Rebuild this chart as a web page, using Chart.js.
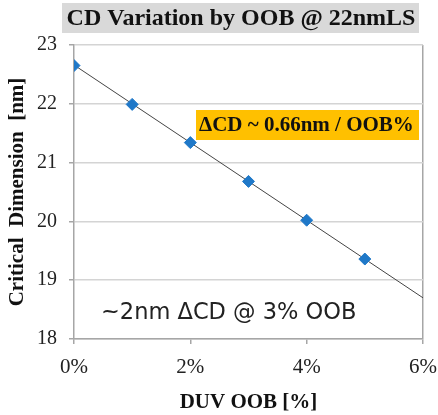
<!DOCTYPE html>
<html>
<head>
<meta charset="utf-8">
<script src="https://cdn.jsdelivr.net/npm/chart.js@4.4.0/dist/chart.umd.min.js"></script>
<style>
  html, body { margin: 0; padding: 0; background: #fff; }
  #wrap { width: 438px; height: 415px; position: relative; }
</style>
</head>
<body>
<div id="wrap"><canvas id="myChart" width="438" height="415"></canvas></div>
<script>
// measured CD at each OOB level
const oobPercent = [0, 1, 2, 3, 4, 5];
const cdValues = [22.65, 21.99, 21.34, 20.68, 20.02, 19.36];

// linear fit, ~0.66 nm per OOB %
const fitX = [0, 6];
const fitY = [22.66, 18.70];

const xTicks = [0, 2, 4, 6];
const yTicks = [18, 19, 20, 21, 22, 23];

const titleText = 'CD Variation by OOB @ 22nmLS';
const slopeNote = '\u0394CD ~ 0.66nm / OOB%';
const deltaNote = '~2nm \u0394CD @ 3% OOB';

const serif = "'Liberation Serif', 'Times New Roman', serif";

// title box and the two text notes
const notesPlugin = {
    id: 'notes',
    afterDraw(chart) {
        const ctx = chart.ctx;
        ctx.save();
        ctx.fillStyle = '#d9d9d9';
        ctx.fillRect(62, 3, 357, 30);
        ctx.fillStyle = '#111';
        ctx.font = 'bold 24px ' + serif;
        ctx.textAlign = 'center';
        ctx.textBaseline = 'middle';
        ctx.fillText(titleText, 241, 19);

        ctx.fillStyle = '#ffc000';
        ctx.fillRect(196, 110, 223, 30);
        ctx.fillStyle = '#111';
        ctx.font = 'bold 21px ' + serif;
        ctx.textAlign = 'left';
        ctx.fillText(slopeNote, 199, 126);

        ctx.fillStyle = '#222';
        ctx.font = "22.5px 'DejaVu Sans', sans-serif";
        ctx.fillText(deltaNote, 101, 313);
        ctx.restore();
    }
};

new Chart('myChart', {
    type: 'scatter',
    data: {
        datasets: [{
            data: oobPercent.map((x, i) => ({x: x, y: cdValues[i]})),
            pointStyle: 'rectRot',
            pointRadius: 6,
            pointHoverRadius: 6,
            backgroundColor: '#1f78c8',
            borderColor: '#1f78c8',
            borderWidth: 1,
            order: 0
        }, {
            type: 'line',
            data: fitX.map((x, i) => ({x: x, y: fitY[i]})),
            borderColor: '#444',
            borderWidth: 1,
            pointRadius: 0,
            fill: false,
            order: 1
        }]
    },
    options: {
        responsive: false,
        animation: false,
        layout: { padding: { top: 45, right: 15, left: 0, bottom: 0 } },
        plugins: {
            legend: { display: false },
            tooltip: { enabled: false }
        },
        scales: {
            x: {
                type: 'linear',
                min: 0,
                max: 6,
                afterFit: s => {
                    s.height = 76;
                    s.paddingLeft = 0;
                    s.paddingRight = 0;
                },
                afterBuildTicks: s => { s.ticks = xTicks.map(v => ({value: v})); },
                ticks: {
                    padding: 11,
                    color: '#222',
                    font: { family: serif, size: 21 },
                    callback: v => v + '%'
                },
                grid: {
                    color: c => c.tick && c.tick.value === 6 ? '#a6a6a6' : 'rgba(0,0,0,0)',
                    tickColor: '#a6a6a6',
                    tickLength: 5,
                    lineWidth: 1.5
                },
                border: { color: '#a6a6a6', width: 1.5 },
                title: {
                    display: true,
                    text: 'DUV OOB [%]',
                    color: '#111',
                    font: { family: serif, size: 21, weight: 'bold' },
                    padding: { top: 0, bottom: 0 }
                }
            },
            y: {
                min: 18,
                max: 23,
                afterFit: s => {
                    s.width = 74;
                    s.paddingTop = 0;
                    s.paddingBottom = 0;
                },
                afterBuildTicks: s => { s.ticks = yTicks.map(v => ({value: v})); },
                ticks: {
                    padding: 12,
                    color: '#222',
                    font: { family: serif, size: 20 }
                },
                grid: {
                    color: '#d4d4d4',
                    tickColor: '#a6a6a6',
                    tickLength: 5,
                    lineWidth: 1.5
                },
                border: { color: '#a6a6a6', width: 1.5 },
                title: {
                    display: true,
                    text: 'Critical  Dimension  [nm]',
                    color: '#111',
                    font: { family: serif, size: 21, weight: 'bold' },
                    padding: { top: 5, bottom: 0 }
                }
            }
        }
    },
    plugins: [notesPlugin]
});
</script>
</body>
</html>
